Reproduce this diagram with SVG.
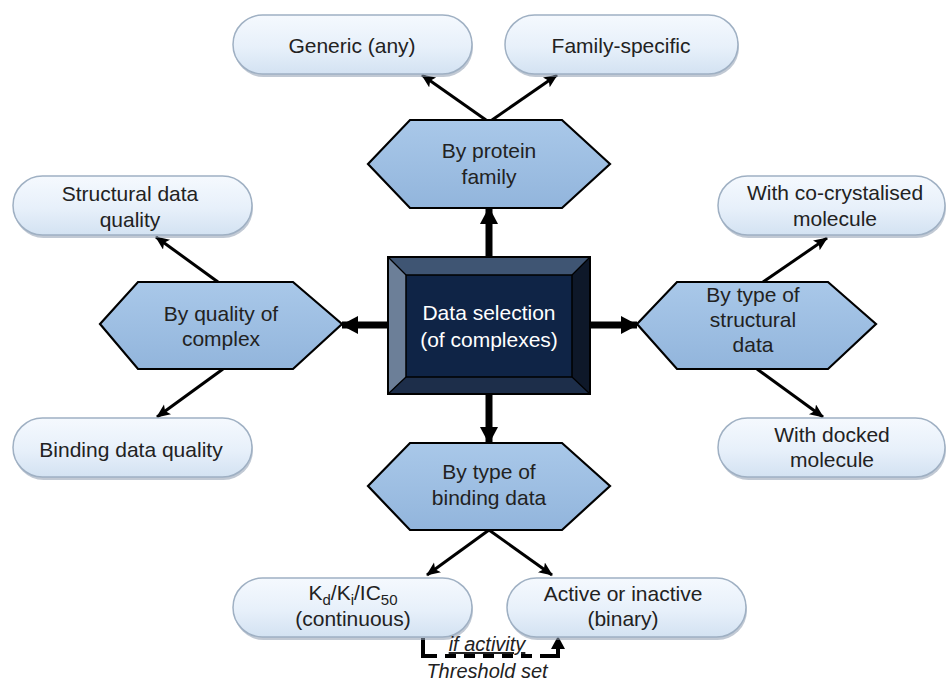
<svg xmlns="http://www.w3.org/2000/svg" width="947" height="681" viewBox="0 0 947 681">
<defs>
<linearGradient id="pillG" x1="0" y1="0" x2="0" y2="1">
<stop offset="0" stop-color="#f5f9fe"/>
<stop offset="0.55" stop-color="#e7f0fa"/>
<stop offset="1" stop-color="#d3e2f2"/>
</linearGradient>
<linearGradient id="hexG" x1="0" y1="0" x2="0" y2="1">
<stop offset="0" stop-color="#a9c8e9"/>
<stop offset="1" stop-color="#92b5dc"/>
</linearGradient>
<marker id="ah" markerUnits="userSpaceOnUse" markerWidth="16" markerHeight="14" refX="13" refY="6" orient="auto">
<path d="M0,0 L14,6 L0,12 L3,6 Z" fill="#000"/>
</marker>
<marker id="ahBig" markerUnits="userSpaceOnUse" markerWidth="20" markerHeight="20" refX="16" refY="9" orient="auto">
<path d="M0,0 L17,9 L0,18 Z" fill="#000"/>
</marker>
</defs>
<style>
.pill{fill:url(#pillG);stroke:#9fb0c3;stroke-width:1.5}
.shadow{fill:#8e9db0;opacity:0.55}
.hex{fill:url(#hexG);stroke:#000;stroke-width:2.2;stroke-linejoin:miter}
.t{font-family:"Liberation Sans",Arial,sans-serif;font-size:21px;fill:#222;text-anchor:middle}
.tw{font-family:"Liberation Sans",Arial,sans-serif;font-size:21px;fill:#fff;text-anchor:middle}
.ti{font-family:"Liberation Sans",Arial,sans-serif;font-size:20px;font-style:italic;fill:#222;text-anchor:middle}
.sub{font-size:15px;baseline-shift:-5px}
.thin{stroke:#000;stroke-width:3;fill:none;marker-end:url(#ah)}
.thick{stroke:#000;stroke-width:7;fill:none;marker-end:url(#ahBig)}
</style>

<g id="connectors">
<line class="thin" x1="486" y1="120" x2="422" y2="75"/>
<line class="thin" x1="492" y1="120" x2="557" y2="75"/>
<line class="thin" x1="218" y1="282" x2="156" y2="237"/>
<line class="thin" x1="223" y1="369" x2="157" y2="417"/>
<line class="thin" x1="763" y1="282" x2="827" y2="238"/>
<line class="thin" x1="757" y1="369" x2="823" y2="417"/>
<line class="thin" x1="489" y1="530" x2="427" y2="575"/>
<line class="thin" x1="489" y1="530" x2="552" y2="575"/>
<line class="thick" x1="489" y1="257" x2="489" y2="208"/>
<line class="thick" x1="388" y1="325" x2="342" y2="325"/>
<line class="thick" x1="590" y1="325" x2="637" y2="325"/>
<line class="thick" x1="489" y1="394" x2="489" y2="443"/>
<path d="M423,638 L423,656 L437,656" stroke="#000" stroke-width="4" fill="none"/>
<line x1="437" y1="656" x2="548" y2="656" stroke="#000" stroke-width="4" stroke-dasharray="11,8" stroke-dashoffset="-8"/>
<path d="M546,656 L558,656 L558,646" stroke="#000" stroke-width="4" fill="none"/>
<path d="M551,649 L558,636 L565,649 Z" fill="#000"/>
</g>

<g id="center">
<rect x="388" y="257" width="202" height="137" fill="#1a2a44" stroke="#000" stroke-width="2"/>
<polygon points="388,257 590,257 572,275 406,275" fill="#3f5573"/>
<polygon points="388,257 406,275 406,377 388,394" fill="#6c7f98"/>
<polygon points="590,257 590,394 572,377 572,275" fill="#0e1829"/>
<polygon points="388,394 406,377 572,377 590,394" fill="#1d2e4a"/>
<rect x="406" y="275" width="166" height="102" fill="#0f2446" stroke="#000" stroke-width="1.5"/>
<line x1="388" y1="257" x2="406" y2="275" stroke="#000" stroke-width="1.2"/>
<line x1="590" y1="257" x2="572" y2="275" stroke="#000" stroke-width="1.2"/>
<line x1="388" y1="394" x2="406" y2="377" stroke="#000" stroke-width="1.2"/>
<line x1="590" y1="394" x2="572" y2="377" stroke="#000" stroke-width="1.2"/>
<rect x="388" y="257" width="202" height="137" fill="none" stroke="#000" stroke-width="2"/>
<text class="tw" x="489" y="320">Data selection</text>
<text class="tw" x="489" y="347">(of complexes)</text>
</g>

<g id="hex-protein">
<polygon class="hex" points="368,164 410,120 562,120 610,164 562,208 410,208"/>
<text class="t" x="489" y="158">By protein</text>
<text class="t" x="489" y="184">family</text>
</g>
<g id="hex-quality">
<polygon class="hex" points="100,324 138,282 293,282 342,324 293,369 138,369"/>
<text class="t" x="221" y="321">By quality of</text>
<text class="t" x="221" y="346">complex</text>
</g>
<g id="hex-structural">
<polygon class="hex" points="637,324 677,282 828,282 876,324 828,369 677,369"/>
<text class="t" x="753" y="302">By type of</text>
<text class="t" x="753" y="327">structural</text>
<text class="t" x="753" y="352">data</text>
</g>
<g id="hex-binding">
<polygon class="hex" points="368,486 410,443 562,443 610,486 562,530 410,530"/>
<text class="t" x="489" y="479">By type of</text>
<text class="t" x="489" y="505">binding data</text>
</g>

<g id="pill-generic">
<rect class="shadow" x="234" y="18" width="239" height="59" rx="29.5"/>
<rect class="pill" x="233" y="15" width="239" height="59" rx="29.5"/>
<text class="t" x="352" y="53">Generic (any)</text>
</g>
<g id="pill-family">
<rect class="shadow" x="506" y="18" width="233" height="59" rx="29.5"/>
<rect class="pill" x="505" y="15" width="233" height="59" rx="29.5"/>
<text class="t" x="621" y="53">Family-specific</text>
</g>
<g id="pill-structural">
<rect class="shadow" x="14" y="179" width="239" height="59" rx="29.5"/>
<rect class="pill" x="13" y="176" width="239" height="59" rx="29.5"/>
<text class="t" x="130" y="201">Structural data</text>
<text class="t" x="130" y="227">quality</text>
</g>
<g id="pill-bindingq">
<rect class="shadow" x="14" y="421" width="239" height="59" rx="29.5"/>
<rect class="pill" x="13" y="418" width="239" height="59" rx="29.5"/>
<text class="t" x="131" y="457">Binding data quality</text>
</g>
<g id="pill-cocryst">
<rect class="shadow" x="719" y="179" width="227" height="59" rx="29.5"/>
<rect class="pill" x="718" y="176" width="227" height="59" rx="29.5"/>
<text class="t" x="835" y="200">With co-crystalised</text>
<text class="t" x="835" y="226">molecule</text>
</g>
<g id="pill-docked">
<rect class="shadow" x="719" y="421" width="227" height="59" rx="29.5"/>
<rect class="pill" x="718" y="418" width="227" height="59" rx="29.5"/>
<text class="t" x="832" y="442">With docked</text>
<text class="t" x="832" y="467">molecule</text>
</g>
<g id="pill-kd">
<rect class="shadow" x="234" y="581" width="239" height="59" rx="29.5"/>
<rect class="pill" x="233" y="578" width="239" height="59" rx="29.5"/>
<text class="t" x="353" y="600">K<tspan class="sub">d</tspan>/K<tspan class="sub">i</tspan>/IC<tspan class="sub">50</tspan></text>
<text class="t" x="353" y="626">(continuous)</text>
</g>
<g id="pill-active">
<rect class="shadow" x="508" y="581" width="239" height="59" rx="29.5"/>
<rect class="pill" x="507" y="578" width="239" height="59" rx="29.5"/>
<text class="t" x="623" y="601">Active or inactive</text>
<text class="t" x="623" y="626">(binary)</text>
</g>

<g id="threshold-label">
<text class="ti" x="487" y="651" text-decoration="underline">if activity</text>
<text class="ti" x="487" y="678">Threshold set</text>
</g>
</svg>
